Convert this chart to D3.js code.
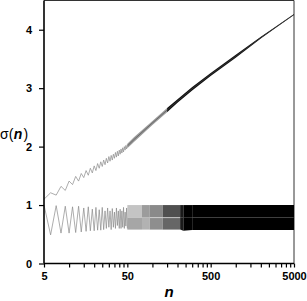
<!DOCTYPE html>
<html>
<head>
  <meta charset="utf-8">
  <style>
    body { margin: 0; background: #fff; }
    .tick text { font-family: "Liberation Sans", Arial, sans-serif; font-weight: bold; font-size: 11px; }
  </style>
</head>
<body>
  <svg id="chart" width="307" height="301"></svg>
  <script src="https://d3js.org/d3.v7.min.js"></script>
  <script>
    // n = 5..50, one value for each n
    const nValues = [5, 6, 7, 8, 9, 10, 11, 12, 13, 14, 15, 16, 17, 18, 19, 20, 21, 22, 23, 24, 25, 26, 27,
      28, 29, 30, 31, 32, 33, 34, 35, 36, 37, 38, 39, 40, 41, 42, 43, 44, 45, 46, 47, 48, 49, 50];
    const sigmaUpper = [1.10, 1.21, 1.17, 1.32, 1.25, 1.41, 1.35, 1.49, 1.41, 1.54, 1.47, 1.59, 1.51, 1.63,
      1.55, 1.67, 1.59, 1.71, 1.63, 1.74, 1.66, 1.77, 1.69, 1.80, 1.72, 1.83, 1.75, 1.85, 1.77, 1.87, 1.80,
      1.90, 1.82, 1.92, 1.84, 1.94, 1.87, 1.96, 1.89, 1.98, 1.91, 2.00, 1.94, 2.02, 1.96, 2.04];
    const sigmaLower = [1.00, 0.49, 0.99, 0.52, 0.98, 0.52, 0.97, 0.53, 0.98, 0.54, 0.95, 0.55, 0.97, 0.56,
      0.93, 0.56, 0.96, 0.57, 0.92, 0.57, 0.96, 0.58, 0.90, 0.60, 0.95, 0.62, 0.90, 0.58, 0.94, 0.62, 0.88,
      0.60, 0.95, 0.65, 0.90, 0.60, 0.93, 0.60, 0.90, 0.62, 0.96, 0.60, 0.88, 0.64, 0.95, 0.60];

    // past n = 50 the zigzag is too dense to read per n: min / max envelope
    const upperBandN = [50, 60, 100, 150, 200, 300, 500, 1000, 2000, 3000, 5000];
    const upperMin = [1.97, 2.08, 2.37, 2.59, 2.75, 2.96, 3.21, 3.52, 3.85, 4.03, 4.25];
    const upperMax = [2.05, 2.16, 2.44, 2.66, 2.81, 3.02, 3.26, 3.57, 3.88, 4.05, 4.27];

    const lowerBandN = [50, 75, 93, 133, 215, 235, 300, 5000];
    const lowerMin = [0.58, 0.58, 0.58, 0.58, 0.58, 0.56, 0.575, 0.575];
    const lowerMax = [1.00, 1.00, 1.00, 1.00, 1.00, 1.00, 1.00, 1.00];
    const lowerGap = 0.785; // light seam inside the band, n = 93..215

    const xMajor = [5, 50, 500, 5000];
    const yTicks = [0, 1, 2, 3, 4];

    let margin = { top: 0.5, right: 13, bottom: 37.5, left: 44 },
      width = 307 - margin.left - margin.right,
      height = 301 - margin.top - margin.bottom;

    let svg = d3.select("#chart");
    let chart = svg.append("g")
      .attr("transform", "translate(" + margin.left + "," + margin.top + ")");

    let xScale = d3.scaleLog().domain([5, 5000]).range([0, width]);
    let yScale = d3.scaleLinear().domain([0, 4.5]).range([height, 0]);

    // minor ticks at every multiple of 5
    let xMinor = [];
    [5, 50, 500].forEach(d => { for (let k = 2; k <= 9; k++) xMinor.push(k * d); });

    // frame (top and right)
    chart.append("path")
      .attr("d", "M0,0H" + width + "V" + height)
      .attr("fill", "none")
      .attr("stroke", "#333")
      .attr("stroke-width", 1);

    // lower band, darker where the zigzag gets denser
    const topShade = ["#c4c4c4", "#9c9c9c", "#8a8a8a", "#505050", "#1a1a1a", "#000", "#000"];
    const botShade = ["#a6a6a6", "#b2b2b2", "#8e8e8e", "#666", "#1a1a1a", "#000", "#000"];
    let lowerPts = lowerBandN.map((n, i) => ({ n: n, lo: lowerMin[i], hi: lowerMax[i] }));
    let area = d3.area()
      .x(d => xScale(d.n))
      .y0(d => yScale(d.lo))
      .y1(d => yScale(d.hi));
    for (let i = 0; i < lowerPts.length - 1; i++) {
      let seg = [lowerPts[i], lowerPts[i + 1]];
      chart.append("path")
        .attr("d", area(seg.map(d => ({ n: d.n, lo: lowerGap, hi: d.hi }))))
        .attr("fill", topShade[i]);
      chart.append("path")
        .attr("d", area(seg.map(d => ({ n: d.n, lo: d.lo, hi: lowerGap }))))
        .attr("fill", botShade[i]);
    }
    chart.append("line")
      .attr("x1", xScale(93)).attr("x2", xScale(215))
      .attr("y1", yScale(lowerGap)).attr("y2", yScale(lowerGap))
      .attr("stroke", "#e0e0e0")
      .attr("stroke-width", 0.7);

    // upper band
    let upperPts = upperBandN.map((n, i) => ({ n: n, lo: upperMin[i], hi: upperMax[i] }));
    chart.append("path")
      .attr("d", area(upperPts.filter(d => d.n <= 150)))
      .attr("fill", "#9a9a9a");
    chart.append("path")
      .attr("d", area(upperPts.filter(d => d.n >= 150)))
      .attr("fill", "#111");
    chart.append("path")
      .attr("d", d3.line().x(d => xScale(d.n)).y(d => yScale((d.lo + d.hi) / 2))(upperPts))
      .attr("fill", "none")
      .attr("stroke", "#444")
      .attr("stroke-width", 0.6);

    // the readable part: one point per n
    let line = d3.line().x(d => xScale(d[0])).y(d => yScale(d[1]));
    [sigmaUpper, sigmaLower].forEach(series => {
      chart.append("path")
        .attr("d", line(nValues.map((n, i) => [n, series[i]])))
        .attr("fill", "none")
        .attr("stroke", "#8a8a8a")
        .attr("stroke-width", 0.7);
    });

    // axes
    let xAxis = chart.append("g")
      .attr("class", "axis x")
      .attr("transform", "translate(0," + height + ")")
      .call(d3.axisBottom(xScale).tickValues(xMajor.concat(xMinor)).tickSize(4).tickPadding(5)
        .tickFormat(d => xMajor.includes(d) ? d : ""));
    xAxis.select(".domain").attr("stroke-width", 1.6).attr("d", "M0,0H" + width);
    xAxis.selectAll(".tick line").attr("stroke-width", 1.2);

    let yAxis = chart.append("g")
      .attr("class", "axis y")
      .call(d3.axisLeft(yScale).tickValues(yTicks).tickSize(5).tickPadding(7).tickFormat(d3.format("d")));
    yAxis.select(".domain").attr("stroke-width", 1.6).attr("d", "M0," + height + "V0");
    yAxis.selectAll(".tick line").attr("stroke-width", 1.2);

    // axis titles
    svg.append("text")
      .attr("x", margin.left + width / 2)
      .attr("y", 297)
      .attr("text-anchor", "middle")
      .style("font-family", "Liberation Sans, Arial, sans-serif")
      .style("font-size", "15px")
      .style("font-weight", "bold")
      .style("font-style", "italic")
      .text("n");

    let yTitle = svg.append("text")
      .attr("x", 0)
      .attr("y", 139)
      .style("font-family", "Liberation Sans, Arial, sans-serif")
      .style("font-size", "14px");
    yTitle.append("tspan").text("σ(");
    yTitle.append("tspan").attr("dx", 0.5).style("font-weight", "bold").style("font-style", "italic").text("n");
    yTitle.append("tspan").attr("dx", 1).text(")");
  </script>
</body>
</html>
